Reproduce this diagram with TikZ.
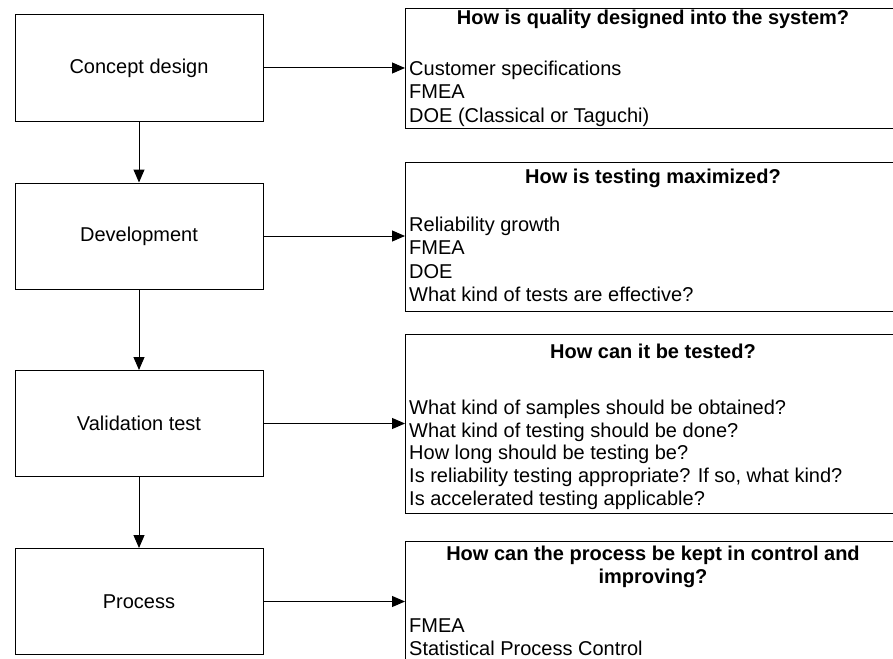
\documentclass[tikz,border=0pt]{standalone}
\usepackage{fontspec}
\setmainfont{Liberation Sans}
\usetikzlibrary{arrows.meta}
\begin{document}
\begin{tikzpicture}[x=1pt,y=-1pt,
  lbox/.style={draw,line width=1pt,minimum width=248pt,minimum height=106pt,inner sep=0pt,font=\fontsize{20}{23}\selectfont},
  rbox/.style={draw,line width=1pt,anchor=north west,minimum width=496pt,inner sep=0pt},
  txt/.style={anchor=base west,inner sep=0pt,font=\fontsize{20}{23}\selectfont},
  hdr/.style={anchor=base,inner sep=0pt,font=\fontsize{20}{23}\selectfont\bfseries},
  arr/.style={line width=1pt,-{Triangle[length=13pt,width=11pt]}}]
\useasboundingbox (0,0) rectangle (893,658);
\clip (0,0) rectangle (893,658);
% left boxes
\node[lbox] (c1) at (139,68) {Concept design};
\node[lbox] (c2) at (139,236) {Development};
\node[lbox] (c3) at (139,423.5) {Validation test};
\node[lbox] (c4) at (139,601.5) {Process};
% right boxes
\node[rbox,minimum height=120pt] (r1) at (405,8) {};
\node[rbox,minimum height=149pt] (r2) at (405,162) {};
\node[rbox,minimum height=179pt] (r3) at (405,334) {};
\node[rbox,minimum height=150pt] (r4) at (405,541) {};
% texts box 1
\node[hdr] (h1) at (653,25) {How is quality designed into the system?};
\node[txt] (a1) at (409,76) {Customer specifications};
\node[txt] (a2) at (409,99) {FMEA};
\node[txt] (a3) at (409,122) {DOE (Classical or Taguchi)};
% texts box 2
\node[hdr] (h2) at (653,183) {How is testing maximized?};
\node[txt] (b1) at (409,231) {Reliability growth};
\node[txt] (b2) at (409,254.5) {FMEA};
\node[txt] (b3) at (409,278) {DOE};
\node[txt] (b4) at (409,301.5) {What kind of tests are effective?};
% texts box 3
\node[hdr] (h3) at (653,358) {How can it be tested?};
\node[txt] (d1) at (409,414) {What kind of samples should be obtained?};
\node[txt] (d2) at (409,437) {What kind of testing should be done?};
\node[txt] (d3) at (409,459.5) {How long should be testing be?};
\node[txt] (d4) at (409,482.5) {Is reliability testing appropriate? If so, what kind?};
\node[txt] (d5) at (409,505.5) {Is accelerated testing applicable?};
% texts box 4
\node[hdr] (h4a) at (653,560) {How can the process be kept in control and};
\node[hdr] (h4b) at (653,583) {improving?};
\node[txt] (e1) at (409,632) {FMEA};
\node[txt] (e2) at (409,655) {Statistical Process Control};
% connectors
\draw[arr] (c1.south) -- (c2.north);
\draw[arr] (c2.south) -- (c3.north);
\draw[arr] (c3.south) -- (c4.north);
\draw[arr] (c1.east) -- (c1.east -| r1.west);
\draw[arr] (c2.east) -- (c2.east -| r2.west);
\draw[arr] (c3.east) -- (c3.east -| r3.west);
\draw[arr] (c4.east) -- (c4.east -| r4.west);
\end{tikzpicture}
\end{document}
